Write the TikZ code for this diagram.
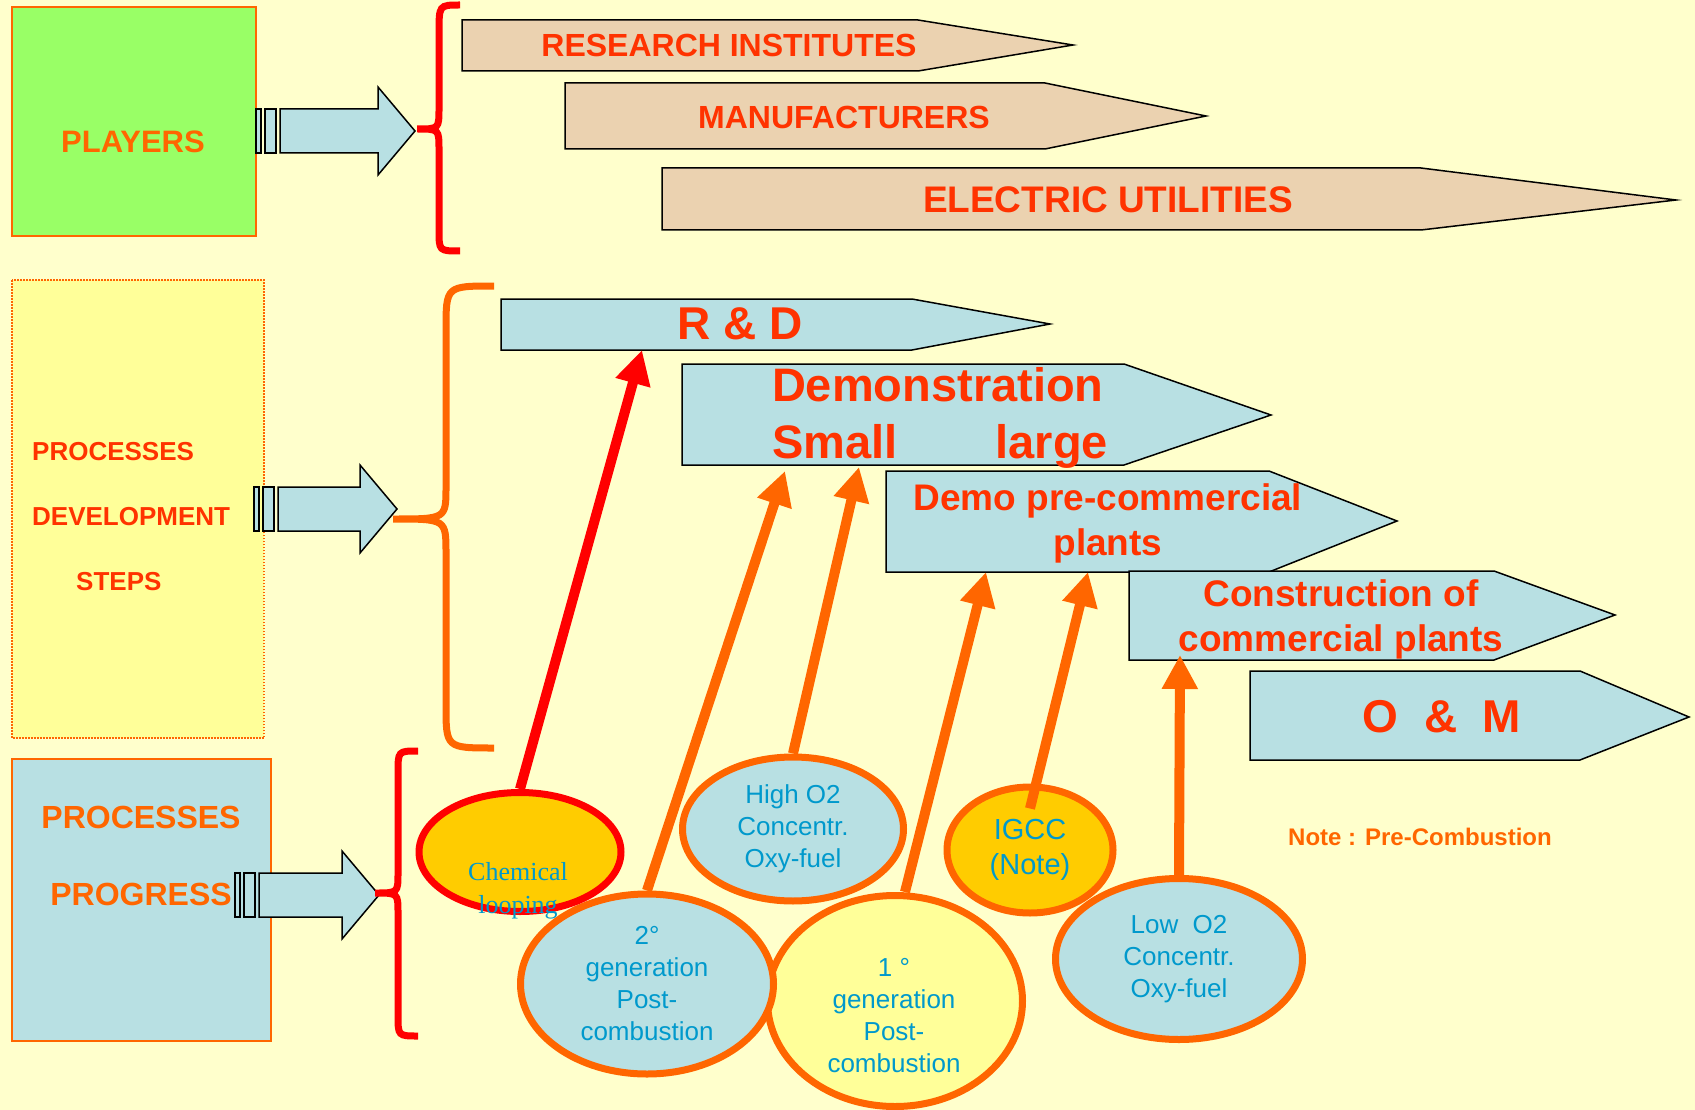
\documentclass[tikz,border=0pt]{standalone}
\usepackage{fontspec}
\setmainfont{Liberation Sans}
\newfontfamily\serifface{Liberation Serif}
\usetikzlibrary{arrows.meta,shapes.geometric}
\definecolor{bgyellow}{HTML}{FFFFCC}
\definecolor{boxgreen}{HTML}{99FF66}
\definecolor{boxyellow}{HTML}{FFFF99}
\definecolor{signblue}{HTML}{B8E0E3}
\definecolor{signtan}{HTML}{EBD2B0}
\definecolor{gold}{HTML}{FFCC00}
\definecolor{lineorange}{HTML}{FF6600}
\definecolor{textred}{HTML}{FF3300}
\definecolor{ovaltext}{HTML}{0099CC}
\tikzset{
    tan-sign/.style = {draw=black, fill=signtan, line width=1.5pt},
    blue-sign/.style = {draw=black, fill=signblue, line width=1.5pt},
    sign-text/.style = {text=textred, inner sep=0pt, align=center},
    big-arrow/.style = {draw=black, fill=signblue, line width=1.5pt},
    brace-line/.style = {line width=7pt},
    oval/.style = {ellipse, draw=lineorange, line width=7pt, inner sep=0pt, text=ovaltext, align=center,
        font={\fontsize{26}{32}\selectfont}},
    oval-text/.style = {text=ovaltext, inner sep=0pt, align=center, font={\fontsize{26}{32}\selectfont}},
    feed/.style = {line width=10pt, draw=lineorange, -{Triangle[length=34pt,width=34pt]}},
}
\begin{document}
\begin{tikzpicture}[x=1pt,y=-1pt]
\fill[bgyellow] (0,0) rectangle (1695,1110);
\useasboundingbox (0,0) rectangle (1695,1110);

% left column
\draw[draw=lineorange, fill=boxgreen, line width=1.5pt] (12,7) rectangle (256,236);
\draw[draw=lineorange, fill=boxyellow, line width=1.5pt, dash pattern=on 1.5pt off 1.5pt] (12,280) rectangle (264,738);
\draw[draw=lineorange, fill=signblue, line width=1.5pt] (12,759) rectangle (271,1041);
\node[inner sep=0pt, text=lineorange, font={\fontsize{31}{37}\selectfont\bfseries}] (players) at (133,142) {PLAYERS};
\node[inner sep=0pt, text=textred, anchor=west, align=left, font={\fontsize{26}{65}\selectfont\bfseries}] (devsteps) at (32,517)
    {PROCESSES\\DEVELOPMENT\\\hspace*{44pt}STEPS};
\node[inner sep=0pt, text=lineorange, align=center, font={\fontsize{32}{77}\selectfont\bfseries}] (progress) at (141,856)
    {PROCESSES\\PROGRESS};

\foreach \x/\y/\h in {256/131/378, 254/509/360, 235/895/342} {
    \draw[big-arrow] (\x,\y-22) rectangle (\x+5,\y+22);
    \draw[big-arrow] (\x+9,\y-22) rectangle (\x+20,\y+22);
    \draw[big-arrow] (\x+24,\y-22) -- (\h,\y-22) -- (\h,\y-44) -- (\h+37,\y) -- (\h,\y+44) -- (\h,\y+22) -- (\x+24,\y+22) -- cycle;
}

% braces
\draw[brace-line, red] (460,5) .. controls (439,5) .. (439,33) -- (439,108) .. controls (439,129) .. (417,129)
    .. controls (439,129) .. (439,150) -- (439,230) .. controls (439,251) .. (460,251);
\draw[brace-line, lineorange] (494,286) .. controls (446,286) .. (446,330) -- (446,487) .. controls (446,519) .. (393,519)
    .. controls (446,519) .. (446,553) -- (446,705) .. controls (446,748) .. (494,748);
\draw[brace-line, red] (418,751) .. controls (398,751) .. (398,773) -- (398,873) .. controls (398,893) .. (375,893)
    .. controls (398,893) .. (398,913) -- (398,1015) .. controls (398,1036) .. (418,1036);

% players
\draw[tan-sign] (462,20) -- (918,20) -- (1073,45) -- (918,71) -- (462,71) -- cycle;
\draw[tan-sign] (565,83) -- (1045,83) -- (1206,116) -- (1045,149) -- (565,149) -- cycle;
\draw[tan-sign] (662,168) -- (1421,168) -- (1676,200) -- (1421,230) -- (662,230) -- cycle;
\node[sign-text, font={\fontsize{32}{38}\selectfont\bfseries}] (research) at (729,45) {RESEARCH INSTITUTES};
\node[sign-text, font={\fontsize{32}{38}\selectfont\bfseries}] (makers) at (844,117) {MANUFACTURERS};
\node[sign-text, font={\fontsize{37}{44}\selectfont\bfseries}] (utilities) at (1108,200) {ELECTRIC UTILITIES};

% development steps
\draw[blue-sign] (501,299) -- (912,299) -- (1050,324) -- (912,350) -- (501,350) -- cycle;
\draw[blue-sign] (682,364) -- (1124,364) -- (1271,415) -- (1124,465) -- (682,465) -- cycle;
\draw[blue-sign] (886,471) -- (1269,471) -- (1397,521) -- (1269,572) -- (886,572) -- cycle;
\draw[blue-sign] (1129,571) -- (1494,571) -- (1615,615) -- (1494,660) -- (1129,660) -- cycle;
\draw[blue-sign] (1250,671) -- (1580,671) -- (1689,717) -- (1580,760) -- (1250,760) -- cycle;
\node[sign-text, font={\fontsize{46}{55}\selectfont\bfseries}] (rd) at (740,324) {R \& D};
\node[sign-text, align=left, text width=336pt, font={\fontsize{47}{57}\selectfont\bfseries}] (demo) at (940,418)
    {Demonstration\\Small\hfill large};
\node[sign-text, font={\fontsize{37}{45}\selectfont\bfseries}] (precom) at (1108,523) {Demo pre-commercial\\plants};
\node[sign-text, font={\fontsize{37}{45}\selectfont\bfseries}] (build) at (1341,619) {Construction of\\commercial plants};
\node[sign-text, font={\fontsize{46}{55}\selectfont\bfseries}] (om) at (1442,717) {O~~\&~~M};

\coordinate (rd-in) at (642,350);
\coordinate (demo-a) at (785,471);
\coordinate (demo-b) at (859,467);
\coordinate (pre-a) at (986,572);
\coordinate (pre-b) at (1088,572);
\coordinate (build-in) at (1180,655);

% processes
\node[oval, fill=boxyellow, minimum width=255pt, minimum height=211pt] (first) at (895,1001) {};
\node[oval-text] (first-t) at (894,1016) {1 °\\generation\\Post-\\combustion};
\node[oval, fill=signblue, minimum width=253pt, minimum height=180pt] (second) at (647,984)
    {2°\\generation\\Post-\\combustion};
\node[oval, draw=red, fill=gold, minimum width=202pt, minimum height=119pt] (chem) at (520,852) {};
\node[oval-text, font={\serifface\fontsize{26}{33}\selectfont}] (chem-t) at (518,891) {Chemical\\looping};
\node[oval, fill=signblue, minimum width=221pt, minimum height=144pt] (high) at (793,829)
    {High O2\\Concentr.\\Oxy-fuel};
\node[oval, fill=gold, minimum width=166pt, minimum height=126pt, font={\fontsize{29}{35}\selectfont}] (igcc) at (1030,850)
    {IGCC\\(Note)};
\node[oval, fill=signblue, minimum width=247pt, minimum height=161pt] (low) at (1179,959)
    {Low~~O2\\Concentr.\\Oxy-fuel};

\draw[feed, draw=red] (chem.north) -- (rd-in);
\draw[feed] (second.north) -- (demo-a);
\draw[feed] (high.north) -- (demo-b);
\draw[feed] ([xshift=10pt]first.north) -- (pre-a);
\draw[feed] ([yshift=-25pt]igcc.north) -- (pre-b);
\draw[feed] (low.north) -- (build-in);

\node[inner sep=0pt, text=lineorange, font={\fontsize{24}{29}\selectfont\bfseries}] (note) at (1420,837) {Note : Pre-Combustion};
\end{tikzpicture}
\end{document}
